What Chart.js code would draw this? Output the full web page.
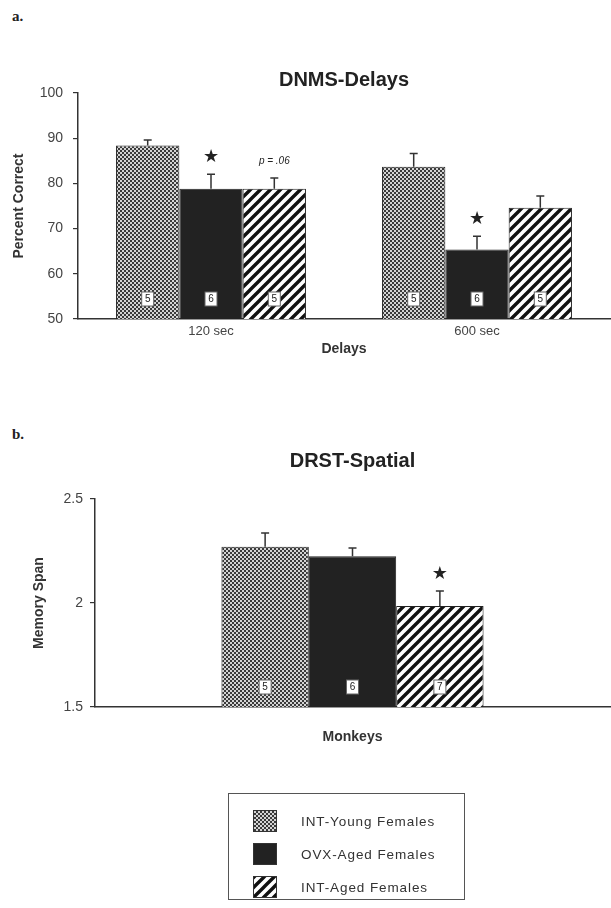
<!DOCTYPE html>
<html>
<head>
<meta charset="utf-8">
<script src="https://cdn.jsdelivr.net/npm/chart.js@4.4.1/dist/chart.umd.min.js"></script>
<style>
  body { margin: 0; background: #fff; width: 611px; height: 908px; position: relative; overflow: hidden; font-family: "Liberation Sans", Arial, sans-serif; }
  canvas { position: absolute; left: 0; }
  #delayChart { top: 0; }
  #spanChart { top: 420px; }
  .tag { position: absolute; left: 12px; font: bold 15px "Liberation Serif", serif; color: #222; }
  #legend { position: absolute; left: 228px; top: 793px; width: 237px; height: 107px; border: 1.5px solid #555; box-sizing: border-box; }
  .row { position: absolute; left: 24px; height: 20px; display: flex; align-items: center; }
  .row canvas { position: static; border: 1px solid #333; box-sizing: border-box; }
  .row span { margin-left: 24px; font-size: 13.5px; letter-spacing: 0.9px; color: #333; }
</style>
</head>
<body>
<div class="tag" style="top:8px">a.</div>
<div class="tag" style="top:426px">b.</div>
<canvas id="delayChart" width="611" height="358"></canvas>
<canvas id="spanChart" width="611" height="326"></canvas>
<div id="legend"></div>

<script>
// values (mean, SEM, n)
const delayLabels = ['120 sec', '600 sec'];
const youngDelay = [88.4, 83.7];
const youngDelayErr = [1.2, 2.9];
const ovxDelay = [78.8, 65.4];
const ovxDelayErr = [3.2, 2.9];
const agedDelay = [78.8, 74.6];
const agedDelayErr = [2.4, 2.6];
const nDelay = [[5, 5], [6, 6], [5, 5]];
const markDelay = [['', ''], ['★', '★'], ['p = .06', '']];

const spanLabels = ['Monkeys'];
const youngSpan = [2.27];
const youngSpanErr = [0.066];
const ovxSpan = [2.225];
const ovxSpanErr = [0.04];
const agedSpan = [1.985];
const agedSpanErr = [0.073];
const nSpan = [[5], [6], [7]];
const markSpan = [[''], [''], ['★']];

const groupNames = ['INT-Young Females', 'OVX-Aged Females', 'INT-Aged Females'];

function checkerPattern() {
  const c = document.createElement('canvas');
  c.width = 4; c.height = 4;
  const g = c.getContext('2d');
  g.fillStyle = '#3a3a3a';
  g.fillRect(0, 0, 4, 4);
  g.fillStyle = '#d4d4d4';
  g.fillRect(0, 0, 2, 2);
  g.fillRect(2, 2, 2, 2);
  return g.createPattern(c, 'repeat');
}

function stripePattern() {
  const c = document.createElement('canvas');
  c.width = 10; c.height = 10;
  const g = c.getContext('2d');
  g.fillStyle = '#fff';
  g.fillRect(0, 0, 10, 10);
  g.strokeStyle = '#111';
  g.lineWidth = 3.4;
  g.beginPath();
  g.moveTo(-1, 11); g.lineTo(11, -1);
  g.moveTo(-6, 6); g.lineTo(6, -6);
  g.moveTo(4, 16); g.lineTo(16, 4);
  g.stroke();
  return g.createPattern(c, 'repeat');
}

const fills = [checkerPattern(), '#222', stripePattern()];

// error bars, n boxes and significance marks
function makeExtras(errs, ns, marks) {
  return {
    id: 'extras',
    afterDatasetsDraw(chart) {
      const ctx = chart.ctx;
      const y = chart.scales.y;
      const area = chart.chartArea;
      chart.data.datasets.forEach((ds, i) => {
        chart.getDatasetMeta(i).data.forEach((bar, j) => {
          const top = y.getPixelForValue(ds.data[j] + errs[i][j]);
          ctx.save();
          ctx.strokeStyle = '#333';
          ctx.lineWidth = 1.5;
          ctx.beginPath();
          ctx.moveTo(bar.x, bar.y);
          ctx.lineTo(bar.x, top);
          ctx.moveTo(bar.x - 4, top);
          ctx.lineTo(bar.x + 4, top);
          ctx.stroke();

          const by = area.bottom - 20;
          ctx.fillStyle = '#fff';
          ctx.fillRect(bar.x - 6, by - 7, 12, 14);
          ctx.lineWidth = 1;
          ctx.strokeStyle = '#666';
          ctx.strokeRect(bar.x - 6, by - 7, 12, 14);
          ctx.fillStyle = '#222';
          ctx.font = '10px "Liberation Sans", Arial';
          ctx.textAlign = 'center';
          ctx.textBaseline = 'middle';
          ctx.fillText(String(ns[i][j]), bar.x, by + 0.5);

          const m = marks[i][j];
          if (m) {
            ctx.font = m === '★' ? '18px "DejaVu Sans"' : 'italic 10px "Liberation Sans", Arial';
            ctx.fillText(m, bar.x, top - 17);
          }
          ctx.restore();
        });
      });
    }
  };
}

function datasets(series) {
  return series.map((vals, i) => ({
    label: groupNames[i],
    data: vals,
    backgroundColor: fills[i],
    borderColor: '#222',
    borderWidth: 1,
    barPercentage: 1
  }));
}

const font = '"Liberation Sans", Arial, sans-serif';

function makeChart(id, cfg) {
  return new Chart(document.getElementById(id), {
    type: 'bar',
    data: { labels: cfg.labels, datasets: datasets(cfg.series) },
    options: {
      responsive: false,
      animation: false,
      datasets: { bar: { categoryPercentage: cfg.catPct } },
      layout: { padding: { left: 0, right: 1, top: 0, bottom: 0 } },
      plugins: {
        legend: { display: false },
        tooltip: { enabled: false },
        title: {
          display: true,
          text: cfg.title,
          fullSize: false,
          color: '#222',
          font: { family: font, size: 20, weight: 'bold' },
          padding: cfg.titlePad
        }
      },
      scales: {
        x: {
          grid: { display: false, drawTicks: false },
          border: { display: true, color: '#333', width: 1.5 },
          ticks: { display: cfg.showX, color: '#444', padding: 5, font: { family: font, size: 13 } },
          title: { display: true, text: cfg.xTitle, color: '#333', padding: { top: 0, bottom: 0 }, font: { family: font, size: 14, weight: 'bold' } },
          afterFit(s) { s.height = 39; }
        },
        y: {
          min: cfg.min,
          max: cfg.max,
          ticks: {
            stepSize: cfg.step,
            color: '#444',
            padding: cfg.tickPad,
            font: { family: font, size: 14 },
            callback: v => String(v)
          },
          grid: { drawOnChartArea: false, drawTicks: true, tickLength: 5, color: '#333', lineWidth: 1.2 },
          border: { display: true, color: '#333', width: 1.5 },
          title: { display: true, text: cfg.yTitle, color: '#333', padding: { top: cfg.yTitlePad, bottom: 0 }, font: { family: font, size: 14, weight: 'bold' } },
          afterFit(s) { s.width = cfg.yWidth; }
        }
      }
    },
    plugins: [makeExtras(cfg.errs, cfg.ns, cfg.marks)]
  });
}

makeChart('delayChart', {
  labels: delayLabels,
  series: [youngDelay, ovxDelay, agedDelay],
  errs: [youngDelayErr, ovxDelayErr, agedDelayErr],
  ns: nDelay,
  marks: markDelay,
  catPct: 0.714,
  title: 'DNMS-Delays',
  titlePad: { top: 68, bottom: 1 },
  xTitle: 'Delays',
  showX: true,
  yTitle: 'Percent Correct',
  yTitlePad: 11,
  min: 50, max: 100, step: 10,
  tickPad: 10,
  yWidth: 78
});

makeChart('spanChart', {
  labels: spanLabels,
  series: [youngSpan, ovxSpan, agedSpan],
  errs: [youngSpanErr, ovxSpanErr, agedSpanErr],
  ns: nSpan,
  marks: markSpan,
  catPct: 0.509,
  title: 'DRST-Spatial',
  titlePad: { top: 29, bottom: 26 },
  xTitle: 'Monkeys',
  showX: false,
  yTitle: 'Memory Span',
  yTitlePad: 31,
  min: 1.5, max: 2.5, step: 0.5,
  tickPad: 7,
  yWidth: 95
});

// legend box
const legend = document.getElementById('legend');
groupNames.forEach((name, i) => {
  const row = document.createElement('div');
  row.className = 'row';
  row.style.top = (17 + i * 33) + 'px';
  const sw = document.createElement('canvas');
  sw.width = 22; sw.height = 20;
  const g = sw.getContext('2d');
  g.fillStyle = fills[i];
  g.fillRect(0, 0, 22, 20);
  const label = document.createElement('span');
  label.textContent = name;
  row.appendChild(sw);
  row.appendChild(label);
  legend.appendChild(row);
});
</script>
</body>
</html>
